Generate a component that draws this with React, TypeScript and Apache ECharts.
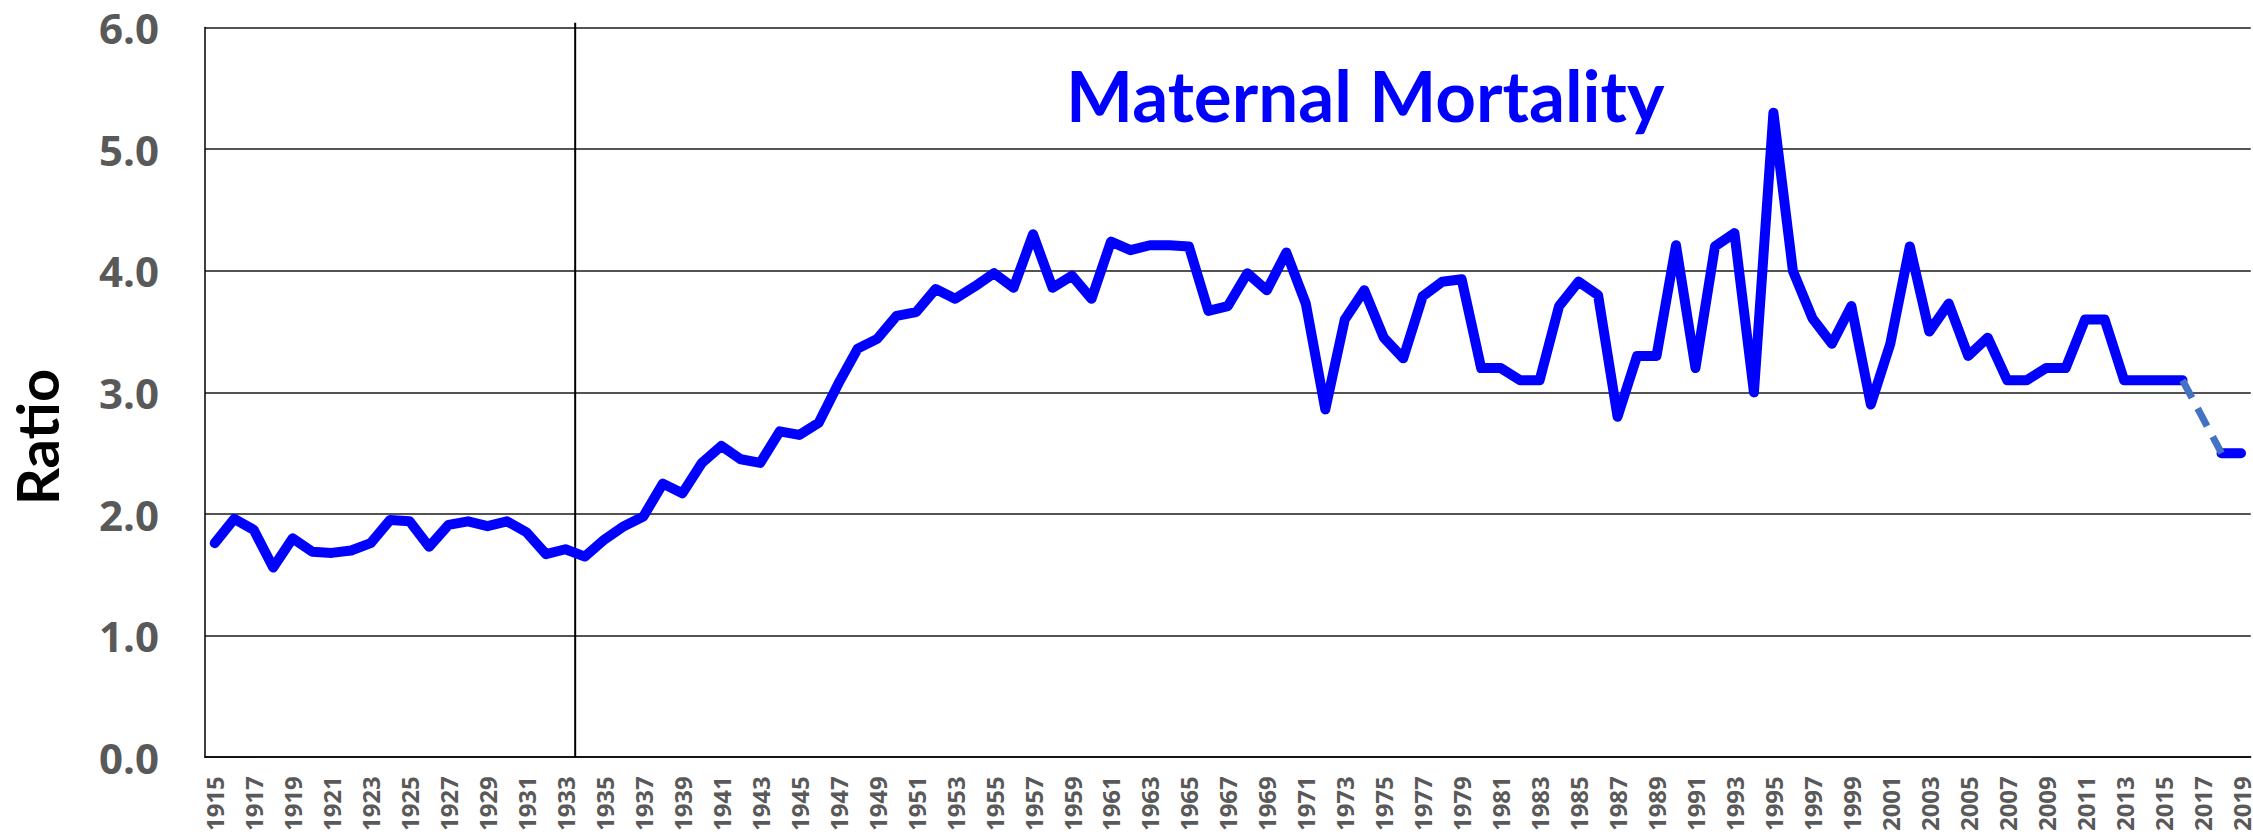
import React, { useEffect, useRef } from "react";
import * as echarts from "echarts";

const years: string[] = [];
for (let y = 1915; y <= 2019; y++) years.push(String(y));

// Maternal mortality ratio 1915..2019 (2017 shown only by the projected dashed segment)
const ratio: (number | null)[] = [
  1.76, 1.96, 1.87, 1.56, 1.80, 1.69, 1.68, 1.70, 1.76, 1.95, // 1915-1924
  1.94, 1.73, 1.91, 1.94, 1.90, 1.94, 1.85, 1.67, 1.71, 1.65, // 1925-1934
  1.79, 1.90, 1.98, 2.25, 2.17, 2.42, 2.56, 2.45, 2.42, 2.68, // 1935-1944
  2.65, 2.75, 3.07, 3.36, 3.44, 3.63, 3.66, 3.85, 3.77, 3.87, // 1945-1954
  3.98, 3.86, 4.30, 3.86, 3.96, 3.77, 4.24, 4.17, 4.21, 4.21, // 1955-1964
  4.20, 3.67, 3.71, 3.98, 3.84, 4.15, 3.73, 2.86, 3.60, 3.84, // 1965-1974
  3.45, 3.28, 3.79, 3.91, 3.93, 3.20, 3.20, 3.10, 3.10, 3.71, // 1975-1984
  3.91, 3.80, 2.80, 3.30, 3.30, 4.21, 3.20, 4.20, 4.31, 3.00, // 1985-1994
  5.30, 4.00, 3.61, 3.40, 3.71, 2.90, 3.40, 4.20, 3.50, 3.73, // 1995-2004
  3.30, 3.45, 3.10, 3.10, 3.20, 3.20, 3.60, 3.60, 3.10, 3.10, // 2005-2014
  3.10, 3.10, null, 2.50, 2.50,                               // 2015-2019
];

// Projected dashed segment 2016..2018
const projYears = ["2016", "2017", "2018"];
const projValues = [3.1, 2.8, 2.5];

const yTicks = [0, 1, 2, 3, 4, 5, 6];
const dividerYear = 1933;

export default function App() {
  const ref = useRef<HTMLDivElement>(null);
  useEffect(() => {
    if (!ref.current) return;
    const chart = echarts.init(ref.current, null, { renderer: "svg" });
    const proj = years.map((y) => {
      const i = projYears.indexOf(y);
      return i >= 0 ? projValues[i] : null;
    });
    const divIdx = years.indexOf(String(dividerYear)) + 1;
    chart.setOption({
      animation: false,
      backgroundColor: "#ffffff",
      grid: { left: 205, right: 0, top: 27.6, bottom: 78.8, containLabel: false },
      xAxis: [
        {
          type: "category",
          data: years,
          boundaryGap: true,
          axisLine: { show: true, lineStyle: { color: "#000", width: 1.5 } },
          axisTick: { show: false },
          axisLabel: {
            interval: 1,
            rotate: 90,
            margin: 19,
            color: "#595959",
            fontFamily: "Open Sans",
            fontWeight: "bold",
            fontSize: 24,
          },
          splitLine: { show: false },
        },
        {
          type: "value",
          min: 0,
          max: years.length,
          show: false,
          position: "bottom",
        },
      ],
      yAxis: {
        type: "value",
        min: yTicks[0],
        max: yTicks[yTicks.length - 1],
        interval: 1,
        axisLine: { show: true, lineStyle: { color: "#000", width: 1.5 } },
        axisTick: { show: false },
        axisLabel: {
          margin: 46,
          color: "#595959",
          fontFamily: "Open Sans",
          fontWeight: "bold",
          fontSize: 42,
          formatter: (v: number) => v.toFixed(1),
        },
        splitLine: { show: true, lineStyle: { color: "#1a1a1a", width: 1.5 } },
      },
      graphic: [
        {
          type: "text",
          x: 1066,
          y: 94,
          style: {
            text: "Maternal Mortality",
            fill: "#0000ff",
            font: "bold 71px Lato",
            align: "left",
            verticalAlign: "middle",
          },
        },
        {
          type: "text",
          x: 36,
          y: 437,
          rotation: Math.PI / 2,
          style: {
            text: "Ratio",
            fill: "#000000",
            font: "bold 58px Lato",
            align: "center",
            verticalAlign: "middle",
          },
        },
      ],
      series: [
        {
          type: "line",
          xAxisIndex: 1,
          data: [
            [divIdx, 0],
            [divIdx, 6.04],
          ],
          clip: false,
          symbol: "none",
          silent: true,
          lineStyle: { color: "#000", width: 2 },
          z: 1,
        },
        {
          type: "line",
          data: ratio,
          connectNulls: false,
          symbol: "none",
          lineStyle: { color: "#0000ff", width: 10, cap: "round", join: "round" },
          z: 3,
        },
        {
          type: "line",
          data: proj,
          connectNulls: false,
          symbol: "none",
          lineStyle: { color: "#4472c4", width: 7, type: [20, 12], cap: "butt" },
          z: 4,
        },
      ],
    });
    return () => chart.dispose();
  }, []);
  return (
    <div
      ref={ref}
      style={{ position: "fixed", left: 0, top: 0, width: 2253, height: 836, background: "#fff" }}
    />
  );
}
